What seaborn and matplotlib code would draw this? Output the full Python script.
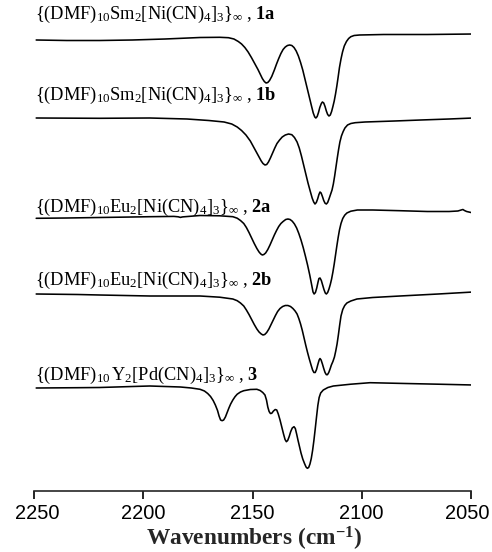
import matplotlib
matplotlib.use("Agg")
import matplotlib.pyplot as plt
import matplotlib.transforms as mtransforms
import seaborn as sns
import pandas as pd

# ---- data (wavenumber in cm-1, offset transmittance in arbitrary units) ----
wn_1a = [2249, 2235, 2220, 2205, 2190, 2174, 2165, 2161, 2158.5, 2156.5, 2155, 2153.5, 2152,
         2150.5, 2149, 2147.5, 2146.5, 2145.5, 2144.6, 2143.8, 2143, 2142.2, 2141.2, 2140,
         2139, 2138, 2137, 2136, 2135, 2134, 2133, 2132, 2131, 2130, 2129, 2128, 2127, 2126,
         2125, 2124, 2123, 2122.2, 2121.5, 2121, 2120.4, 2119.8, 2119.2, 2118.5, 2118, 2117.4,
         2116.8, 2116.2, 2115.6, 2115, 2114.4, 2113.8, 2113.2, 2112.6, 2112, 2111.4, 2110.8,
         2110.2, 2109.5, 2108.8, 2108, 2107, 2106, 2105, 2103.5, 2101, 2090, 2070, 2049]
t_1a = [451, 450.5, 450.5, 451, 452, 453.5, 453.7, 453.3, 452, 449.5, 447, 443.5, 439,
        433.5, 427.5, 421.5, 417, 412.5, 409.5, 408, 408.5, 410.5, 414.5, 421,
        427, 432.5, 437.5, 441.5, 444, 445.5, 446, 445.5, 443.5, 440, 435, 428.5, 421, 412,
        403, 394, 385, 378, 374, 373, 374.5, 378.5, 383.5, 387.5, 389, 388,
        384.5, 380, 376.5, 375, 376, 379.5, 384.5, 390, 397, 405, 414,
        423.5, 432, 439, 445, 449.5, 452.5, 454.3, 455.5, 456, 456.5, 456.5, 457]

wn_1b = [2249, 2220, 2197, 2180, 2170, 2163, 2159.5, 2157, 2155, 2153, 2151, 2149.5, 2148,
         2147, 2146, 2145.2, 2144.3, 2143.5, 2142.7, 2141.8, 2140.8, 2139.8, 2138.8, 2137.6,
         2136.4, 2135, 2133.5, 2132, 2130.8, 2129.6, 2128.6, 2127.6, 2126.6, 2125.6, 2124.6,
         2123.6, 2122.7, 2122, 2121.4, 2120.8, 2120.2, 2119.6, 2119.1, 2118.6, 2118, 2117.4,
         2116.8, 2116.2, 2115.6, 2115, 2114.3, 2113.6, 2113, 2112.4, 2111.8, 2111.2, 2110.6,
         2110, 2109.3, 2108.5, 2107.7, 2106.5, 2105, 2103, 2098.5, 2085, 2073, 2060, 2049]
t_1b = [373, 372.7, 373, 372, 370.5, 369, 367, 364, 360.5, 356, 350, 344, 338,
        334, 330, 327.5, 326, 326.5, 329, 333, 338, 343, 347.5, 351,
        354, 356, 357, 356.3, 353.5, 349, 343, 335, 326, 317, 308,
        300, 293, 289, 287, 288.5, 292, 296.5, 299, 298, 294.5, 290.5,
        287.8, 287, 288.5, 292, 296.5, 301, 307, 315, 324, 333, 341.5,
        349, 355, 359.5, 363, 366, 367.5, 368.3, 369, 370, 371, 372, 373]

wn_2a = [2249, 2235, 2220, 2205, 2197, 2186, 2184, 2183, 2182, 2174, 2165, 2159, 2157,
         2155.5, 2154, 2152.8, 2151.6, 2150.4, 2149.2, 2148, 2147, 2146.2, 2145.5, 2144.8,
         2144, 2143, 2142, 2141, 2140, 2139, 2138, 2137, 2136, 2134.8, 2133.8, 2132.8, 2131.8,
         2130.8, 2129.8, 2128.8, 2127.8, 2126.8, 2125.8, 2124.8, 2123.8, 2123, 2122.3, 2121.8,
         2121.2, 2120.6, 2120, 2119.6, 2119.1, 2118.5, 2117.9, 2117.3, 2116.7, 2116.2, 2115.6,
         2115, 2114.4, 2113.8, 2113.2, 2112.6, 2112, 2111.4, 2110.8, 2110.2, 2109.5, 2108.7,
         2107.8, 2106.8, 2105, 2102, 2095, 2082.5, 2070, 2060, 2056, 2054.5, 2053.7, 2053,
         2052, 2049]
t_2a = [272.7, 273, 273.5, 274, 274.3, 274.6, 274.2, 273.6, 274.1, 275.5, 275.2, 274.3, 272.8,
        270.5, 267.5, 263.5, 258.5, 253, 247.5, 242.5, 239, 237, 236, 236.5,
        238, 241.5, 246, 251, 256, 260.5, 264.5, 267.5, 269.5, 271.5, 272, 271.5, 269.8,
        267, 263, 257.5, 251, 243.5, 235, 226, 216, 207, 199, 197,
        198.5, 203, 209, 212.5, 213, 210.5, 206, 201.5, 198, 197, 198.5,
        202, 206.5, 212, 219, 227, 236, 245, 253.5, 261, 267.5, 272.5,
        275.8, 278, 279.8, 281, 281, 280.3, 279.5, 279.5, 280, 281, 281.5, 280.5,
        279.5, 278]

wn_2b = [2249, 2230, 2220, 2197, 2180, 2174, 2165, 2159, 2157, 2155.5, 2154, 2152.8, 2151.6,
         2150.4, 2149.2, 2148, 2147, 2146, 2145.2, 2144.4, 2143.5, 2142.5, 2141.5, 2140.5,
         2139.5, 2138.5, 2137.4, 2136.2, 2135, 2133.8, 2132.6, 2131.5, 2130.5, 2129.6, 2128.8,
         2128, 2127.2, 2126.4, 2125.6, 2124.8, 2124, 2123.2, 2122.5, 2121.9, 2121.3, 2120.7,
         2120.1, 2119.5, 2119.1, 2118.6, 2118, 2117.4, 2116.8, 2116.2, 2115.7, 2115.1, 2114.5,
         2113.9, 2113.2, 2112.5, 2111.9, 2111.3, 2110.7, 2110.1, 2109.5, 2108.7, 2107.8,
         2106.8, 2105, 2102.2, 2095, 2082.5, 2065, 2049]
t_2b = [197, 196.5, 196, 195, 195, 195, 193.8, 192, 190.3, 188, 185, 181, 176.5,
        171.5, 166.5, 162, 159, 157, 156, 156.5, 158.5, 162, 166.5, 171,
        175.5, 179.5, 182.5, 184.5, 185.5, 185.5, 184.5, 182.5, 180, 177, 172.5,
        167, 160.5, 153, 145.5, 138.5, 132, 126, 121, 118.5, 118.5, 121.5,
        126.5, 131, 132.5, 131, 127, 122.5, 118.5, 116.3, 116.3, 118.5, 122,
        126, 129.5, 134, 140, 147, 156, 166, 175, 181.5, 185.5,
        188, 190, 192, 193.5, 195, 197, 199]

wn_3 = [2249, 2230, 2220, 2205, 2197, 2190, 2183, 2178, 2174, 2172, 2170.5, 2169.2, 2168,
        2167, 2166, 2165.3, 2164.6, 2163.9, 2163.2, 2162.4, 2161.6, 2160.8, 2160, 2159, 2158,
        2157, 2155.5, 2154, 2151, 2148, 2146.5, 2145.3, 2144.3, 2143.6, 2143, 2142.4, 2141.8,
        2141.2, 2140.4, 2139.6, 2138.9, 2138.2, 2137.4, 2136.6, 2135.8, 2135.1, 2134.5,
        2133.9, 2133.2, 2132.5, 2131.8, 2131, 2130.4, 2129.8, 2129.2, 2128.5, 2127.8, 2127,
        2126.2, 2125.5, 2124.9, 2124.3, 2123.7, 2123.1, 2122.5, 2121.9, 2121.3, 2120.7,
        2120.1, 2119.5, 2118.8, 2117.6, 2115.5, 2113, 2105, 2096.2, 2080, 2065, 2049]
t_3 = [103, 103.3, 103.5, 104.5, 105, 104.5, 104, 103, 101.7, 100, 97.5, 94.5, 90.5,
       86, 80.5, 75, 71, 70.3, 71, 74, 78.5, 83, 87, 91, 94.3,
       96.8, 99, 100.3, 101.5, 101.7, 100.5, 98.5, 96, 91, 84, 79.5, 77.5,
       77.7, 80, 81.5, 81, 77, 71, 64, 57, 51.5, 49.3,
       50.5, 54.5, 59.5, 63, 64.3, 62.5, 57, 51, 44.5, 38, 32,
       27.5, 24, 22.7, 23.5, 27, 32.5, 40.5, 50.5, 62, 74,
       85.5, 93.5, 98, 101, 103.5, 105, 106.8, 108.3, 107.5, 106.8, 106]

labels = [r"$\{(\mathrm{DMF})_{10}\mathrm{Sm}_{2}[\mathrm{Ni(CN)}_{4}]_{3}\}_{\infty}$ , $\mathbf{1a}$",
          r"$\{(\mathrm{DMF})_{10}\mathrm{Sm}_{2}[\mathrm{Ni(CN)}_{4}]_{3}\}_{\infty}$ , $\mathbf{1b}$",
          r"$\{(\mathrm{DMF})_{10}\mathrm{Eu}_{2}[\mathrm{Ni(CN)}_{4}]_{3}\}_{\infty}$ , $\mathbf{2a}$",
          r"$\{(\mathrm{DMF})_{10}\mathrm{Eu}_{2}[\mathrm{Ni(CN)}_{4}]_{3}\}_{\infty}$ , $\mathbf{2b}$",
          r"$\{(\mathrm{DMF})_{10}\,\mathrm{Y}_{2}[\mathrm{Pd(CN)}_{4}]_{3}\}_{\infty}$ , $\mathbf{3}$"]
label_y = [472.5, 391, 279, 206, 111]

xticks = [2250, 2200, 2150, 2100, 2050]

series = [(wn_1a, t_1a), (wn_1b, t_1b), (wn_2a, t_2a), (wn_2b, t_2b), (wn_3, t_3)]

# ---- figure ----
sns.set_style("ticks")
plt.rcParams["font.family"] = ["Liberation Serif", "DejaVu Serif"]
plt.rcParams["mathtext.fontset"] = "custom"
plt.rcParams["mathtext.rm"] = "Liberation Serif"
plt.rcParams["mathtext.it"] = "Liberation Serif:italic"
plt.rcParams["mathtext.bf"] = "Liberation Serif:bold"
plt.rcParams["mathtext.default"] = "rm"

fig = plt.figure(figsize=(4.92, 5.52), dpi=100)
ax = fig.add_axes([34 / 492, 1 - 491 / 552, (471 - 34) / 492, 491 / 552])

for wn, t in series:
    df = pd.DataFrame({"wn": wn, "t": t})
    sns.lineplot(data=df, x="wn", y="t", color="black", linewidth=1.15, ax=ax,
                 sort=False, estimator=None)

for lab, ly in zip(labels, label_y):
    ax.text(2249.5, ly, lab, fontsize=13.2, ha="left", va="baseline", color="black")

ax.set_xlim(2250, 2050)
ax.set_ylim(0, 491)
ax.set_xticks(xticks)
ax.set_xticklabels([str(v) for v in xticks], fontfamily="Liberation Sans", fontsize=14.4)
ax.set_yticks([])
ax.set_xlabel("")
ax.set_ylabel("")
for s in ["left", "top", "right"]:
    ax.spines[s].set_visible(False)
ax.spines["bottom"].set_linewidth(1.2)
ax.tick_params(axis="x", direction="out", length=5.5, width=1.2, pad=4, colors="black")
ax.patch.set_alpha(0)

# shift the edge tick labels slightly inward, as in the reference
tl = ax.get_xticklabels()
tl[0].set_transform(tl[0].get_transform() + mtransforms.ScaledTranslation(3 / 100, 0, fig.dpi_scale_trans))
tl[-1].set_transform(tl[-1].get_transform() + mtransforms.ScaledTranslation(-4 / 100, 0, fig.dpi_scale_trans))

fig.text(253.5 / 492, 1 - 546 / 552, r"Wavenumbers (cm$^{\mathbf{-1}}$)", fontsize=16.8,
         fontweight="bold", ha="center", va="baseline")

fig.savefig("out.png", dpi=100)
